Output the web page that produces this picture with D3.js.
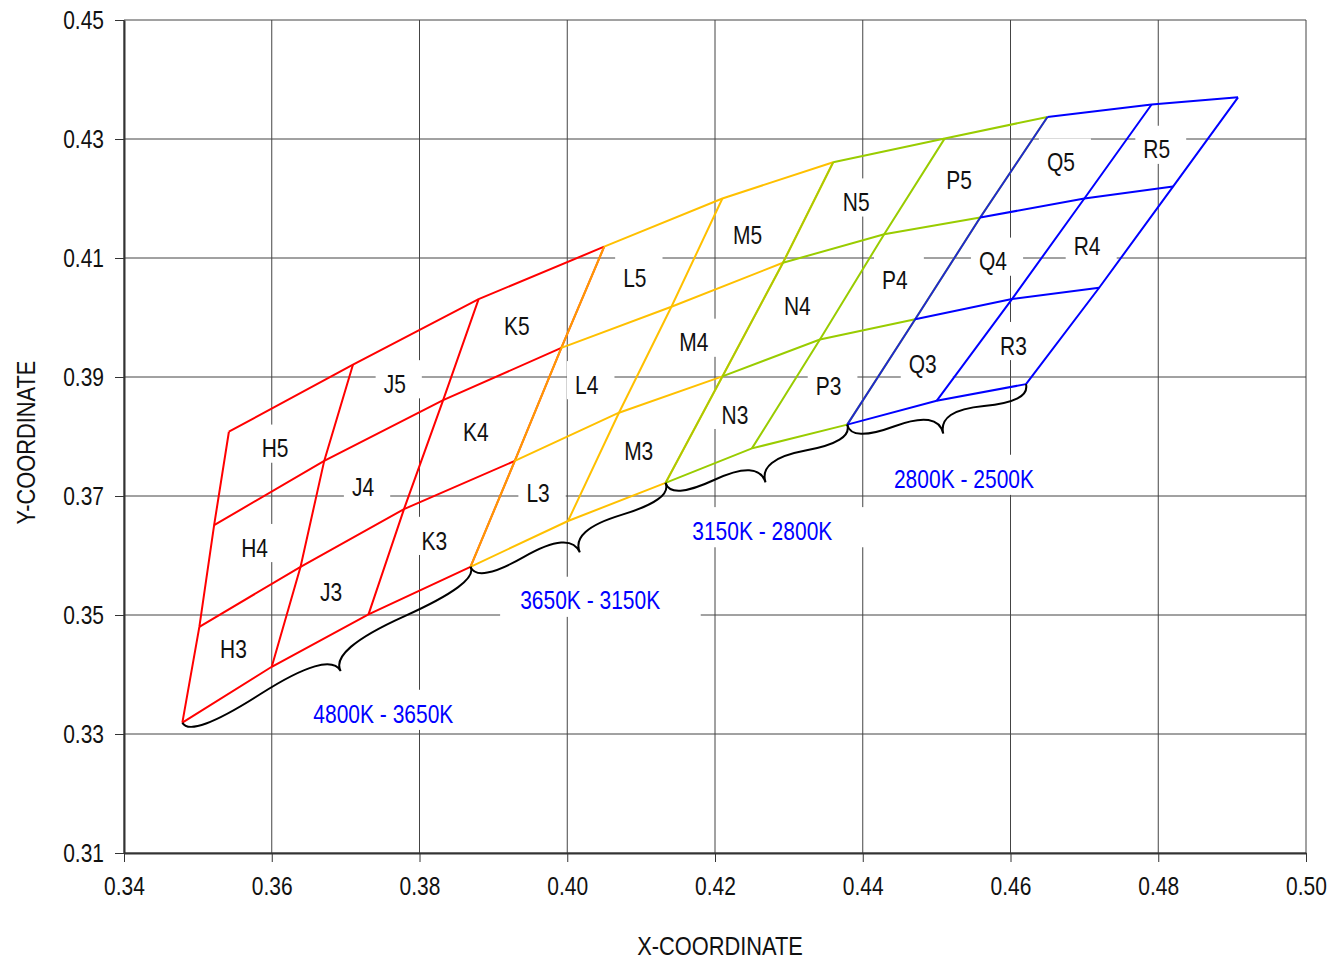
<!DOCTYPE html>
<html>
<head>
<meta charset="utf-8">
<script src="https://cdn.jsdelivr.net/npm/d3@7"></script>
<style>
  body { margin: 0; background: #fff; }
  text { font-family: "Liberation Sans", Arial, sans-serif; }
</style>
</head>
<body>
<div id="chart"></div>
<script>
// tick values
const xTicks = [0.34, 0.36, 0.38, 0.40, 0.42, 0.44, 0.46, 0.48, 0.50];
const yTicks = [0.31, 0.33, 0.35, 0.37, 0.39, 0.41, 0.43, 0.45];

// bin names
const binColumns = ["H", "J", "K", "L", "M", "N", "P", "Q", "R"];
const binRows = ["3", "4", "5"];

// corner points (x, y chromaticity) of the bin grid, left to right
const edgeBottom = [[0.3479, 0.3319], [0.3600, 0.3413], [0.3731, 0.3501], [0.3869, 0.3581], [0.4001, 0.3658],
  [0.4133, 0.3722], [0.4250, 0.3780], [0.4379, 0.3820], [0.4500, 0.3860], [0.4621, 0.3888]];
const edge34 = [[0.3502, 0.3480], [0.3639, 0.3581], [0.3779, 0.3678], [0.3929, 0.3759], [0.4070, 0.3840],
  [0.4210, 0.3901], [0.4342, 0.3963], [0.4471, 0.3997], [0.4602, 0.4031], [0.4720, 0.4050]];
const edge45 = [[0.3522, 0.3651], [0.3671, 0.3759], [0.3832, 0.3861], [0.3992, 0.3949], [0.4141, 0.4018],
  [0.4292, 0.4092], [0.4429, 0.4140], [0.4559, 0.4168], [0.4700, 0.4200], [0.4820, 0.4220]];
const edgeTop = [[0.3542, 0.3808], [0.3710, 0.3921], [0.3880, 0.4031], [0.4050, 0.4119], [0.4210, 0.4200],
  [0.4360, 0.4261], [0.4511, 0.4301], [0.4650, 0.4337], [0.4791, 0.4358], [0.4908, 0.4370]];

// colour temperature groups
const groupNames = ["4800K - 3650K", "3650K - 3150K", "3150K - 2800K", "2800K - 2500K"];
const groupColors = ["#FF0000", "#FFC000", "#99CC00", "#0000FF"];
const groupBounds = [[0, 3], [3, 5], [5, 7], [7, 9]];
const groupLabelAt = [[0.3751, 0.3334], [0.4031, 0.3524], [0.4264, 0.3641], [0.4537, 0.3729]];

const svgWidth = 1338;
const svgHeight = 961;
const margin = { top: 20, right: 32, bottom: 108, left: 124 };
const width = svgWidth - margin.left - margin.right;
const height = svgHeight - margin.top - margin.bottom;
const narrow = 0.84; // condensed look of the original font

const svg = d3.select("#chart").append("svg")
  .attr("width", svgWidth)
  .attr("height", svgHeight);

const chartGroup = svg.append("g")
  .attr("transform", `translate(${margin.left}, ${margin.top})`);

const x = d3.scaleLinear().domain([0.34, 0.50]).range([0, width]);
const y = d3.scaleLinear().domain([0.31, 0.45]).range([height, 0]);

// gridlines
const grid = chartGroup.append("g");
grid.selectAll(".hgrid").data(yTicks).enter().append("line")
  .attr("x1", 0).attr("x2", width)
  .attr("y1", d => y(d)).attr("y2", d => y(d))
  .attr("stroke", "#444").attr("stroke-width", 1);
grid.selectAll(".vgrid").data(xTicks).enter().append("line")
  .attr("x1", d => x(d)).attr("x2", d => x(d))
  .attr("y1", 0).attr("y2", height)
  .attr("stroke", "#444").attr("stroke-width", 1);

// axes
const fmt = d3.format(".2f");
const xAxis = chartGroup.append("g")
  .attr("transform", `translate(0, ${height})`)
  .call(d3.axisBottom(x).tickValues(xTicks).tickFormat(fmt).tickSize(9).tickSizeOuter(0).tickPadding(15));
const yAxis = chartGroup.append("g")
  .call(d3.axisLeft(y).tickValues(yTicks).tickFormat(fmt).tickSize(9).tickSizeOuter(0).tickPadding(11));
[xAxis, yAxis].forEach(a => {
  a.select(".domain").attr("stroke", "#333").attr("stroke-width", 2);
  a.selectAll(".tick line").attr("stroke", "#333");
  a.selectAll(".tick text").attr("font-size", "25px").attr("fill", "#111")
    .style("font-family", '"Liberation Sans", Arial, sans-serif')
    .attr("transform", `scale(${narrow}, 1)`);
});
yAxis.selectAll(".tick text").attr("x", -20 / narrow);

chartGroup.append("text")
  .attr("transform", `translate(${width / 2 + 5}, ${height + 102}) scale(${narrow}, 1)`)
  .attr("text-anchor", "middle").attr("font-size", "26px").attr("fill", "#111")
  .text("X-COORDINATE");
chartGroup.append("text")
  .attr("transform", `translate(${-89}, ${height / 2 + 6}) rotate(-90) scale(${narrow}, 1)`)
  .attr("text-anchor", "middle").attr("font-size", "26px").attr("fill", "#111")
  .text("Y-COORDINATE");

const rows = [edgeBottom, edge34, edge45, edgeTop];
const line = d3.line().x(d => x(d[0])).y(d => y(d[1]));

const boxLayer = chartGroup.append("g");
const lineLayer = chartGroup.append("g");
const textLayer = chartGroup.append("g");

// bin grid, one colour per temperature group
groupBounds.forEach((b, g) => {
  const color = groupColors[g];
  rows.forEach(r => {
    lineLayer.append("path")
      .attr("d", line(r.slice(b[0], b[1] + 1)))
      .attr("fill", "none").attr("stroke", color).attr("stroke-width", 2);
  });
  for (let c = b[0]; c <= b[1]; c++) {
    lineLayer.append("path")
      .attr("d", line(rows.map(r => r[c])))
      .attr("fill", "none").attr("stroke", color).attr("stroke-width", 2)
      .attr("stroke-opacity", c === b[0] && g > 0 ? 0.8 : 1);
  }
});

// curly brace under each group
function bracePath(x1, y1, x2, y2, w, q) {
  let dx = x1 - x2, dy = y1 - y2;
  const len = Math.sqrt(dx * dx + dy * dy);
  dx = dx / len; dy = dy / len;
  const qx1 = x1 + q * w * dy, qy1 = y1 - q * w * dx;
  const qx2 = (x1 - .25 * len * dx) + (1 - q) * w * dy, qy2 = (y1 - .25 * len * dy) - (1 - q) * w * dx;
  const tx1 = (x1 - .5 * len * dx) + w * dy, ty1 = (y1 - .5 * len * dy) - w * dx;
  const qx3 = x2 + q * w * dy, qy3 = y2 - q * w * dx;
  const qx4 = (x1 - .75 * len * dx) + (1 - q) * w * dy, qy4 = (y1 - .75 * len * dy) - (1 - q) * w * dx;
  return `M ${x1} ${y1} Q ${qx1} ${qy1} ${qx2} ${qy2} T ${tx1} ${ty1}` +
    ` M ${x2} ${y2} Q ${qx3} ${qy3} ${qx4} ${qy4} T ${tx1} ${ty1}`;
}
groupBounds.forEach(b => {
  const p1 = edgeBottom[b[0]], p2 = edgeBottom[b[1]];
  lineLayer.append("path")
    .attr("d", bracePath(x(p1[0]), y(p1[1]), x(p2[0]), y(p2[1]), 30, 0.6))
    .attr("fill", "none").attr("stroke", "#000").attr("stroke-width", 2);
});

// labels with white boxes hiding the gridlines
function addLabel(px, py, str, color, pad) {
  const t = textLayer.append("text")
    .attr("transform", `translate(${px}, ${py}) scale(${narrow}, 1)`)
    .attr("dy", "0.35em")
    .attr("text-anchor", "middle").attr("font-size", "25px").attr("fill", color)
    .text(str);
  const bb = t.node().getBBox();
  boxLayer.append("rect")
    .attr("x", px + bb.x * narrow - pad[0]).attr("y", py + bb.y - pad[2])
    .attr("width", bb.width * narrow + pad[0] + pad[1]).attr("height", bb.height + pad[2] + pad[3])
    .attr("fill", "#fff");
}

for (let i = 0; i < binColumns.length; i++) {
  for (let j = 0; j < binRows.length; j++) {
    const pts = [rows[j][i], rows[j][i + 1], rows[j + 1][i + 1], rows[j + 1][i]];
    const cx = d3.mean(pts, p => x(p[0])) - 5;
    const cy = d3.mean(pts, p => y(p[1])) + 3;
    addLabel(cx, cy, binColumns[i] + binRows[j], "#111", [8, 16, 10, 0]);
  }
}
groupNames.forEach((name, g) => {
  addLabel(x(groupLabelAt[g][0]), y(groupLabelAt[g][1]), name, "#0000FF", [20, 40, 10, 2]);
});
</script>
</body>
</html>
